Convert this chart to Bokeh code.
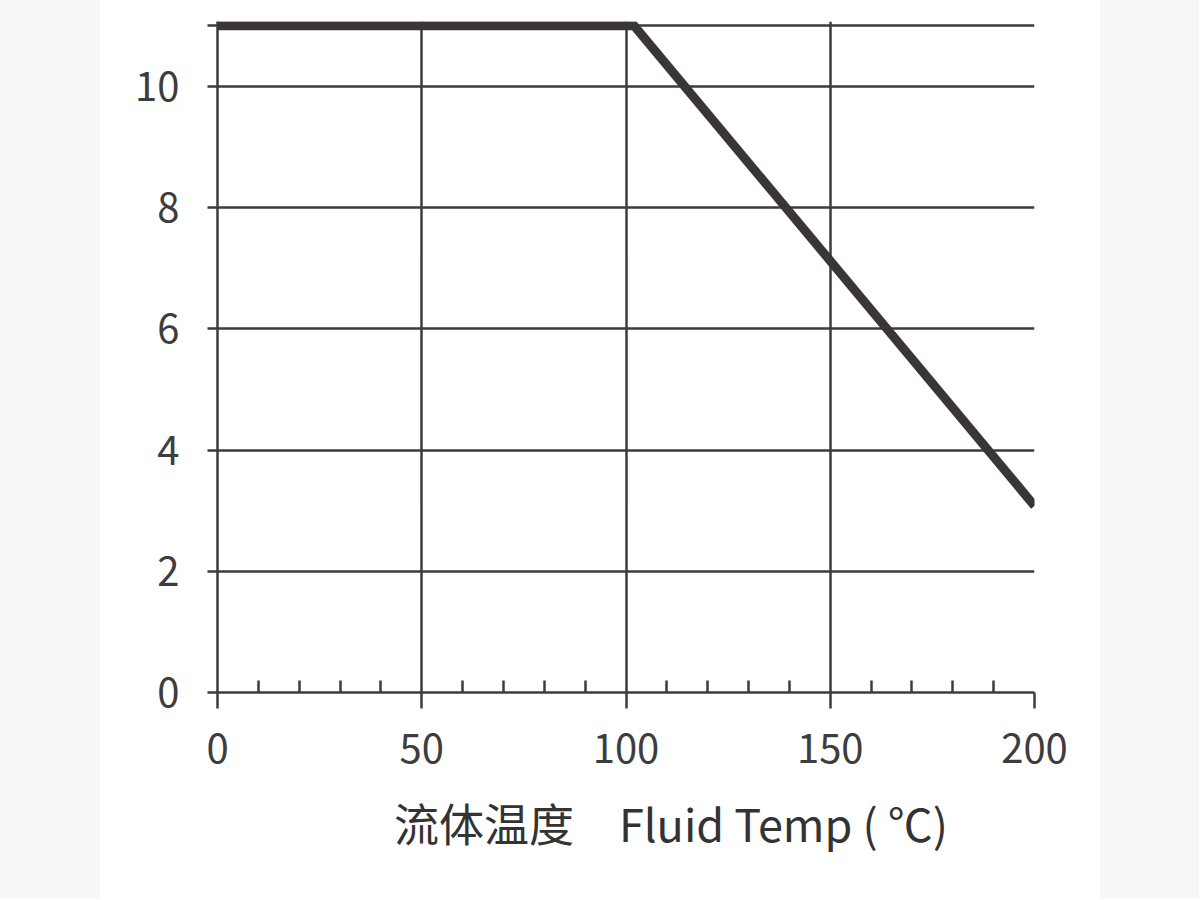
from bokeh.plotting import figure
from bokeh.models import FixedTicker, Spacer
from bokeh.layouts import row
from bokeh.embed import file_html
from bokeh.resources import INLINE

# data
temps = [0, 102, 200]
pressure = [11, 11, 3.08]
x_major = [0, 50, 100, 150, 200]
x_minor = [10, 20, 30, 40, 60, 70, 80, 90, 110, 120, 130, 140, 160, 170, 180, 190]
y_ticks = [0, 2, 4, 6, 8, 10, 11]
y_labels = {0: "0", 2: "2", 4: "4", 6: "6", 8: "8", 10: "10", 11: ""}
x_title = "\u3000\u3000流体温度\u3000Fluid Temp ( ℃)"

INK = "#3a3636"
GRID = "#3c3c3c"
FONT = "Noto Sans CJK SC"
H = 898

p = figure(width=1000, height=H, x_range=(0, 200), y_range=(0, 11.07),
           output_backend="svg", toolbar_location=None,
           min_border_left=117, min_border_right=66,
           min_border_top=21, min_border_bottom=H - 692)
p.background_fill_color = "white"
p.border_fill_color = "white"
p.outline_line_color = None

p.xgrid.ticker = FixedTicker(ticks=x_major)
p.ygrid.ticker = FixedTicker(ticks=y_ticks)
for g in (p.xgrid, p.ygrid):
    g.grid_line_color = GRID
    g.grid_line_width = 2.5
    g.grid_line_alpha = 1.0

p.line(temps, pressure, line_width=9, line_color=INK, line_join="miter", line_cap="butt")

xa = p.xaxis[0]
xa.ticker = FixedTicker(ticks=x_major, minor_ticks=x_minor)
xa.major_tick_out = 16
xa.major_tick_in = 0
xa.minor_tick_in = 12
xa.minor_tick_out = 0
xa.major_label_standoff = 25
xa.axis_label = x_title
xa.axis_label_text_font = FONT
xa.axis_label_text_font_size = "45px"
xa.axis_label_text_font_style = "normal"
xa.axis_label_text_color = "#333333"
xa.axis_label_standoff = 24

ya = p.yaxis[0]
ya.ticker = FixedTicker(ticks=y_ticks)
ya.major_label_overrides = y_labels
ya.major_tick_out = 10
ya.major_tick_in = 0
ya.minor_tick_in = 0
ya.minor_tick_out = 0
ya.major_label_standoff = 28

for a in (xa, ya):
    a.axis_line_color = GRID
    a.axis_line_width = 2.5
    a.major_tick_line_color = GRID
    a.major_tick_line_width = 2.5
    a.minor_tick_line_color = GRID
    a.minor_tick_line_width = 2.5
    a.major_label_text_font = FONT
    a.major_label_text_font_size = "40px"
    a.major_label_text_color = "#3d3d3d"

left = Spacer(width=100, height=H, styles={"background-color": "#f7f7f7"})
right = Spacer(width=99, height=H, styles={"background-color": "#f7f7f7"})
layout = row(left, p, right)

open("out.html", "w").write(file_html(layout, INLINE))
